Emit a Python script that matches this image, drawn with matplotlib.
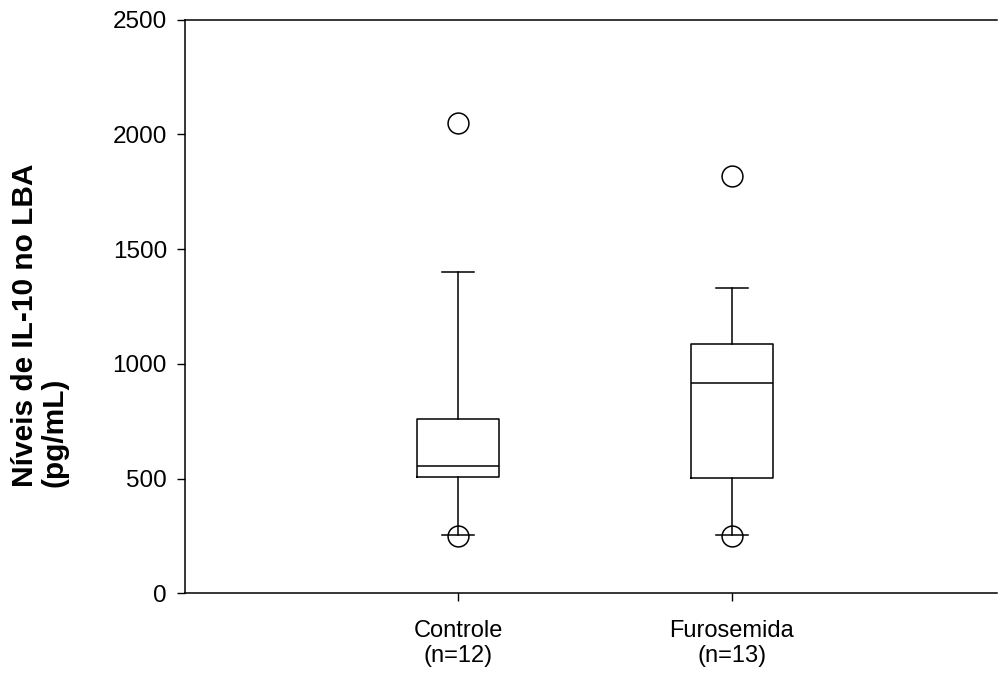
import matplotlib
matplotlib.use("Agg")
import matplotlib.pyplot as plt

plt.rcParams['font.family'] = ['Liberation Sans', 'DejaVu Sans']

# dados
grupos = ['Controle\n(n=12)', 'Furosemida\n(n=13)']
medianas = [556, 915]
q1 = [508, 503]
q3 = [761, 1088]
whisk_baixo = [254, 254]
whisk_alto = [1400, 1332]
outliers = [[2052, 248], [1820, 248]]
yticks = [0, 500, 1000, 1500, 2000, 2500]

stats = []
for i in range(len(grupos)):
    stats.append(dict(med=medianas[i], q1=q1[i], q3=q3[i],
                      whislo=whisk_baixo[i], whishi=whisk_alto[i],
                      fliers=outliers[i], label=grupos[i]))

fig = plt.figure(figsize=(9.98, 6.78), dpi=100)
ax = fig.add_axes([185/998, (678-593.3)/678, (997-185)/998, (593.3-19.8)/678])

linha = dict(color='black', linewidth=1.1)
ax.bxp(stats, positions=[1, 2], widths=0.3, capwidths=0.117,
       boxprops=linha, whiskerprops=linha, capprops=linha,
       medianprops=linha,
       flierprops=dict(marker='o', markersize=15, markerfacecolor='none',
                       markeredgecolor='black', markeredgewidth=1.1))

ax.set_xlim(0, 2.97)
ax.set_ylim(0, 2500)
ax.set_yticks(yticks)
ax.set_xticks([1, 2])
ax.set_xticklabels(grupos, fontsize=17)
ax.tick_params(axis='y', labelsize=17.5, length=6, width=1, pad=7)
ax.tick_params(axis='x', length=6, width=1, pad=13)

ax.spines['right'].set_visible(False)
for s in ['left', 'bottom', 'top']:
    ax.spines[s].set_linewidth(1.1)

fig.text(40/998, (678-487)/678, 'Níveis de IL-10 no LBA\n(pg/mL)',
         rotation=90, ha='center', va='bottom', multialignment='left',
         fontsize=21.5, fontweight='bold', linespacing=1.05)

fig.savefig('out.png', dpi=100)
